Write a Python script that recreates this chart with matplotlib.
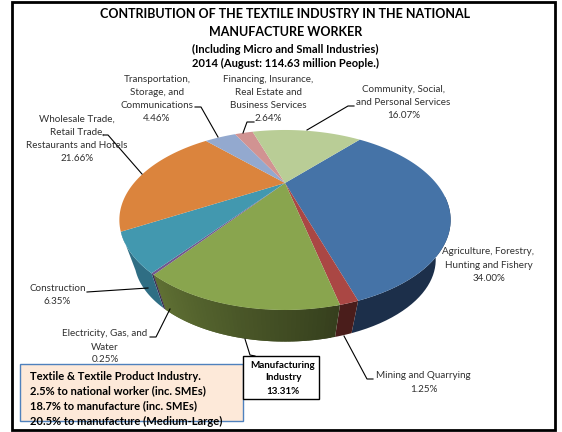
import numpy as np
import matplotlib
matplotlib.use('Agg')
import matplotlib.pyplot as plt
from matplotlib.patches import Polygon, Rectangle

plt.rcParams['font.family'] = ['Lato', 'DejaVu Sans']

# share of workers, clockwise from the agriculture slice
sectors = ['Agriculture', 'Mining', 'Manufacturing', 'Electricity', 'Construction',
           'Wholesale', 'Transportation', 'Financing', 'Community']
shares = [34.00, 1.25, 13.31, 0.25, 6.35, 21.66, 4.46, 2.64, 16.07]
top_colors = ['#4573a7', '#aa4744', '#89a54e', '#71588f', '#4298af',
              '#db843d', '#93a9cf', '#d19392', '#b9cd96']
side_colors = ['#1c2f4a', '#4a1d1b', '#4a5728', '#3c2c52', '#2f6e84',
               '#8a5020', '#5a6c8c', '#8a5a5a', '#76875a']

title_lines = ['CONTRIBUTION OF THE TEXTILE INDUSTRY IN THE NATIONAL', 'MANUFACTURE WORKER']
subtitle_lines = ['(Including Micro and Small Industries)', '2014 (August: 114.63 million People.)']
note_lines = ['Textile & Textile Product Industry.', '2.5% to national worker (inc. SMEs)',
              '18.7% to manufacture (inc. SMEs)', '20.5% to manufacture (Medium-Large)']

# pie projection, in pixels
cx, cy = 285, 183
a, b, k = 151, 74.8, 0.411
shrink, depth = 0.91, 43
start = 40.5


def project(t, lower=False):
    t = np.radians(t)
    x, y = np.sin(t), np.cos(t)
    px = a * x / (1 + k * y)
    py = b * y / (1 + k * y)
    if lower:
        return cx + px * shrink, cy - py * shrink + depth
    return cx + px, cy - py


def wall(t0, t1, color):
    ts = np.linspace(t0, t1, 30)
    ux, uy = project(ts)
    lx, ly = project(ts, True)
    pts = list(zip(ux, uy)) + list(zip(lx[::-1], ly[::-1]))
    ax.add_patch(Polygon(pts, fc=color, ec='none', zorder=1))


fig = plt.figure(figsize=(5.62, 4.32), dpi=100)
ax = fig.add_axes([0, 0, 1, 1])
ax.set_xlim(0, 562)
ax.set_ylim(432, 0)
ax.axis('off')

ax.add_patch(Rectangle((11.5, 1.5), 543.5, 428.5, fc='white', ec='black', lw=2, zorder=0))

edges = start + np.cumsum([0] + shares) * 3.6
wall_from, wall_to = 100, edges[5]

# side wall first, top face goes over it
for i in range(len(shares)):
    t_start, t_end = max(edges[i], wall_from), min(edges[i + 1], wall_to)
    if t_start >= t_end:
        continue
    base = np.array(matplotlib.colors.to_rgb(side_colors[i]))
    if sectors[i] == 'Manufacturing':
        # lighter to the left; pieces overlap so no seams show
        for t0 in np.arange(t_start, t_end, 1.0):
            shade = 1 + 0.3 * (t0 - 190) / 25
            wall(t0, min(t0 + 2.0, t_end), np.clip(base * shade, 0, 1))
    else:
        wall(t_start, t_end, base)

for i in range(len(shares)):
    ts = np.linspace(edges[i], edges[i + 1], 80)
    xs, ys = project(ts)
    pts = [(cx, cy)] + list(zip(xs, ys))
    ax.add_patch(Polygon(pts, fc=top_colors[i], ec='none', zorder=2))

leaders = [
    [(195, 107), (201, 107), (218, 137)],
    [(254, 122), (247, 122), (243, 133)],
    [(354, 106), (348, 106), (307, 130)],
    [(103, 135), (108, 135), (142, 174)],
    [(87, 292), (148, 288)],
    [(150, 337), (156, 337), (170, 309)],
    [(245, 339), (250, 355), (255, 356)],
    [(373, 379), (367, 379), (344, 336)],
]
for line in leaders:
    xs, ys = zip(*line)
    ax.plot(xs, ys, color='black', lw=0.8, zorder=3)

labels = [
    (157, [79.5, 92.5, 105.5, 118.5], ['Transportation,', 'Storage, and', 'Communications', '4.46%']),
    (268.5, [79.5, 92.5, 105.5, 118.5], ['Financing, Insurance,', 'Real Estate and', 'Business Services', '2.64%']),
    (403.5, [89.5, 102.5, 115.5], ['Community, Social,', 'and Personal Services', '16.07%']),
    (77, [119.5, 132.5, 145.5, 158.5], ['Wholesale Trade,', 'Retail Trade,', 'Restaurants and Hotels', '21.66%']),
    (488.5, [252, 265.5, 278.5], ['Agriculture, Forestry,', 'Hunting and Fishery', '34.00%']),
    (423.5, [376, 389], ['Mining and Quarrying', '1.25%']),
    (57.5, [288.5, 302], ['Construction', '6.35%']),
    (105, [333, 347, 360], ['Electricity, Gas, and', 'Water', '0.25%']),
]
for x, ys, lines in labels:
    for y, s in zip(ys, lines):
        ax.text(x, y, s, ha='center', va='center', fontsize=7.1, color='#303030', zorder=4)

for y, s in zip([14, 32], title_lines):
    ax.text(285.5, y, s, ha='center', va='center', fontsize=9.0, fontweight='bold', color='black')
for y, s in zip([49, 63], subtitle_lines):
    ax.text(285, y, s, ha='center', va='center', fontsize=8.0, fontweight='bold', color='black')

ax.add_patch(Rectangle((20, 364), 223, 57, fc='#fde9d9', ec='#4f81bd', lw=1, zorder=5))
for y, s in zip([377, 391, 406, 421.5], note_lines):
    ax.text(30, y, s, ha='left', va='center', fontsize=8.0, fontweight='bold', color='black', zorder=6)

ax.add_patch(Rectangle((243, 356), 76, 43, fc='white', ec='black', lw=1, zorder=5))
for y, s in zip([365, 378, 391], ['Manufacturing', 'Industry', '13.31%']):
    ax.text(283, y, s, ha='center', va='center', fontsize=7.1, fontweight='bold', color='black', zorder=6)

fig.savefig('out.png', dpi=100)
